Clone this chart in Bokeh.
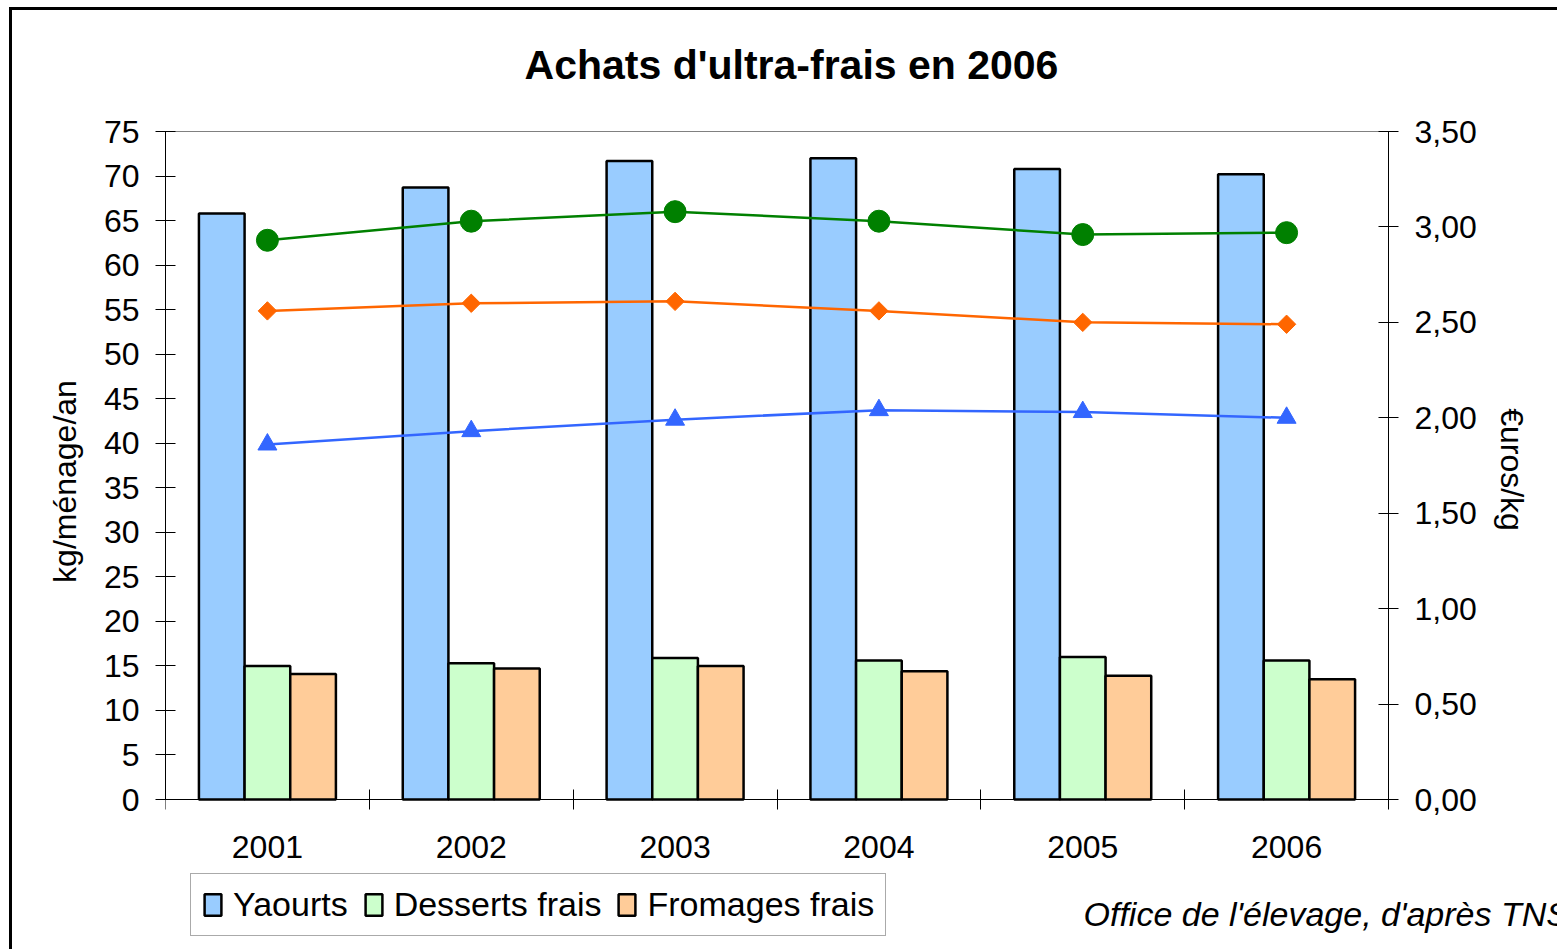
from bokeh.plotting import figure
from bokeh.models import (Range1d, LinearAxis, FixedTicker, Legend, LegendItem, Label)
from bokeh.embed import file_html
from bokeh.resources import INLINE
import numpy as np

# ---------------- data ----------------
years = ["2001", "2002", "2003", "2004", "2005", "2006"]
yaourts = [65.8, 68.7, 71.7, 72.0, 70.8, 70.2]
desserts = [15.0, 15.3, 15.9, 15.6, 16.0, 15.6]
fromages = [14.1, 14.7, 15.0, 14.4, 13.9, 13.5]
prix_vert = [2.93, 3.03, 3.08, 3.03, 2.96, 2.97]
prix_orange = [2.56, 2.60, 2.61, 2.56, 2.50, 2.49]
prix_bleu = [1.86, 1.93, 1.99, 2.04, 2.03, 2.00]
left_ticks = list(range(0, 80, 5))
right_ticks = [0.0, 0.5, 1.0, 1.5, 2.0, 2.5, 3.0, 3.5]
right_tick_labels = ["0,00", "0,50", "1,00", "1,50", "2,00", "2,50", "3,00", "3,50"]
bar_names = ["Yaourts", "Desserts frais", "Fromages frais"]
title_text = "Achats d'ultra-frais en 2006"
source_text = "Office de l'élevage, d'après TNS"
left_label = "kg/ménage/an"
right_label = "€uros/kg"

# ---------------- layout geometry (page pixels) ----------------
FONT = "Liberation Sans"
CX0, CY0, CX1, CY1 = 12, 10, 1560, 952       # canvas extent on the page
PL, PR, PT, PB = 165, 1388, 131, 799          # plot area of the chart
NCAT = len(years)
Y_MAX, P_MAX = 75.0, 3.5

x_per = (PR - PL) / NCAT
y_per = (PB - PT) / Y_MAX
p_per = (PB - PT) / P_MAX


def px_x(px):
    return (px - PL) / x_per


def px_y(py):
    return (PB - py) / y_per


W, H = CX1 - CX0, CY1 - CY0

p = figure(width=W, height=H, output_backend="svg", toolbar_location=None,
           x_range=Range1d(0, (CX1 - PL) / x_per),
           y_range=Range1d(-(CY1 - PB) / y_per, Y_MAX + (PT - CY0) / y_per),
           min_border_left=PL - CX0, min_border_right=0,
           min_border_top=0, min_border_bottom=0)
p.styles = {"margin-left": "9px", "margin-top": "7px",
            "border-left": "3px solid black", "border-top": "3px solid black"}
p.extra_y_ranges = {"prix": Range1d(-(CY1 - PB) / p_per, P_MAX + (PT - CY0) / p_per)}
p.xgrid.visible = False
p.ygrid.visible = False
p.outline_line_color = None
p.background_fill_color = "white"
p.border_fill_color = "white"

centers = np.arange(NCAT) + 0.5
BW = 0.224

r_y = p.vbar(x=centers - BW, top=yaourts, width=BW, fill_color="#99CCFF",
             line_color="black", line_width=2.5)
r_d = p.vbar(x=centers, top=desserts, width=BW, fill_color="#CCFFCC",
             line_color="black", line_width=2.5)
r_f = p.vbar(x=centers + BW, top=fromages, width=BW, fill_color="#FFCC99",
             line_color="black", line_width=2.5)

# price lines (right axis)
p.line(centers, prix_vert, y_range_name="prix", line_color="#008000", line_width=2.5)
p.scatter(centers, prix_vert, y_range_name="prix", marker="circle", size=22,
          fill_color="#008000", line_color="#008000")
p.line(centers, prix_orange, y_range_name="prix", line_color="#FF6600", line_width=2.5)
p.scatter(centers, prix_orange, y_range_name="prix", marker="square", angle=np.pi / 4,
          size=13, fill_color="#FF6600", line_color="#FF6600")
p.line(centers, prix_bleu, y_range_name="prix", line_color="#3366FF", line_width=2.5)
p.scatter(centers, prix_bleu, y_range_name="prix", marker="triangle", size=19,
          fill_color="#3366FF", line_color="#3366FF")

# x axis, pinned at y = 0
xa = p.xaxis[0]
xa.fixed_location = 0
xa.bounds = (0, NCAT)
xa.ticker = FixedTicker(ticks=list(centers), minor_ticks=list(range(NCAT + 1)))
xa.major_label_overrides = {float(c): y for c, y in zip(centers, years)}
xa.major_tick_in = 0
xa.major_tick_out = 0
xa.minor_tick_in = 10
xa.minor_tick_out = 10
xa.minor_tick_line_color = "black"
xa.axis_line_color = "black"
xa.major_label_text_font = FONT
xa.major_label_text_font_size = "32px"
xa.major_label_text_color = "black"
xa.major_label_standoff = 26

# left axis
ya = p.yaxis[0]
ya.bounds = (0, Y_MAX)
ya.ticker = FixedTicker(ticks=left_ticks, minor_ticks=[])
ya.major_tick_in = 10
ya.major_tick_out = 10
ya.major_tick_line_color = "black"
ya.axis_line_color = "black"
ya.major_label_text_font = FONT
ya.major_label_text_font_size = "32px"
ya.major_label_text_color = "black"
ya.major_label_standoff = 16
ya.axis_label = left_label
ya.axis_label_text_font = FONT
ya.axis_label_text_font_size = "32px"
ya.axis_label_text_font_style = "normal"
ya.axis_label_text_color = "black"
ya.axis_label_standoff = 18

# right axis, pinned at the right edge of the plot area
ra = LinearAxis(y_range_name="prix", fixed_location=NCAT, bounds=(0, P_MAX))
ra.ticker = FixedTicker(ticks=right_ticks, minor_ticks=[])
ra.major_label_overrides = {float(t): l for t, l in zip(right_ticks, right_tick_labels)}
ra.major_tick_in = 10
ra.major_tick_out = 10
ra.major_tick_line_color = "black"
ra.axis_line_color = "black"
ra.major_label_text_font = FONT
ra.major_label_text_font_size = "32px"
ra.major_label_text_color = "black"
ra.major_label_standoff = 16
p.add_layout(ra, "right")

# thin grey top border of the plot area
ta = LinearAxis(fixed_location=Y_MAX, bounds=(0, NCAT))
ta.ticker = FixedTicker(ticks=[], minor_ticks=[])
ta.axis_line_color = "#808080"
ta.major_label_text_font_size = "0px"
p.add_layout(ta, "above")

# texts
p.add_layout(Label(x=px_x(791), y=px_y(64), text=title_text, text_align="center",
                   text_baseline="middle", text_font=FONT, text_font_size="41px",
                   text_font_style="bold", text_color="black"))
p.add_layout(Label(x=px_x(1511), y=px_y(469), text=right_label,
                   text_align="center", text_baseline="middle", angle=-np.pi / 2,
                   text_font=FONT, text_font_size="32px", text_color="black"))
p.add_layout(Label(x=px_x(1083), y=px_y(913), text=source_text, text_align="left",
                   text_baseline="middle", text_font=FONT, text_font_size="34px",
                   text_font_style="italic", text_color="black"))

# legend
legend = Legend(items=[LegendItem(label=n, renderers=[r]) for n, r in
                       zip(bar_names, [r_y, r_d, r_f])],
                orientation="horizontal", location=(190 - PL, CY1 - 936), margin=0,
                padding=11, spacing=15, label_standoff=10,
                glyph_width=21, glyph_height=27,
                label_text_font=FONT, label_text_font_size="34px",
                label_text_color="black",
                border_line_color="#555555", border_line_width=1,
                background_fill_color="white", background_fill_alpha=1)
p.add_layout(legend, "center")

open("out.html", "w").write(file_html(p, INLINE))
